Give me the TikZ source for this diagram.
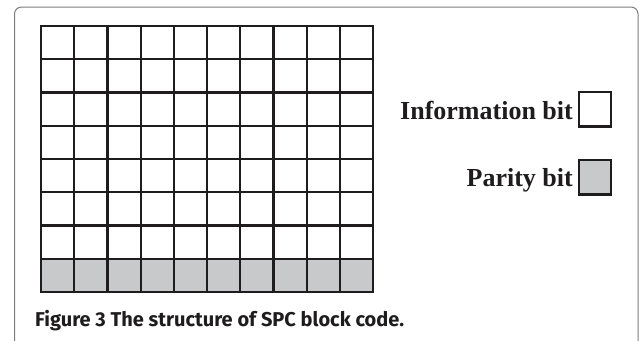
\documentclass[tikz,border=0pt]{standalone}
\usepackage{fontspec}
\setmainfont{Liberation Serif}
\newfontfamily\capfont{Fira Sans}
\definecolor{paritygray}{RGB}{200,201,203}
\definecolor{framegray}{RGB}{125,125,125}
\definecolor{inkblack}{RGB}{30,28,28}
\begin{document}
\begin{tikzpicture}[x=1pt,y=-1pt,
  gridline/.style={line width=2.2pt, draw=inkblack},
  legbox/.style={draw=inkblack, line width=2.2pt, minimum width=32pt, minimum height=34.5pt, inner sep=0pt},
  legtext/.style={font=\fontsize{26}{30}\selectfont\bfseries, text=inkblack, anchor=base east, inner sep=0pt}]
\useasboundingbox (0,0) rectangle (639,340);
% outer frame
\draw[framegray, line width=1pt, rounded corners=7pt] (14.5,350) -- (14.5,7) -- (638,7) -- (638,350);
% grid
\fill[paritygray] (41,258.75) rectangle (373,292);
\foreach \i in {1,...,9} \draw[gridline] (41+\i*33.2,26) -- (41+\i*33.2,292);
\foreach \j in {1,...,7} \draw[gridline] (41,26+\j*33.25) -- (373,26+\j*33.25);
\draw[gridline] (41,26) rectangle (373,292);
% legend
\node[legbox] (infobox) at (595,109.3) {};
\node[legbox, fill=paritygray] (parbox) at (595,177.3) {};
\node[legtext] (infotext) at (573,119.3) {Information bit};
\node[legtext] (partext) at (573,186.7) {Parity bit};
% caption
\node[anchor=base west, inner sep=0pt, text=inkblack, font=\capfont\fontsize{20}{24}\selectfont] (caption) at (35,326.5) {\bfseries Figure 3 The structure of SPC block code.};
\end{tikzpicture}
\end{document}
